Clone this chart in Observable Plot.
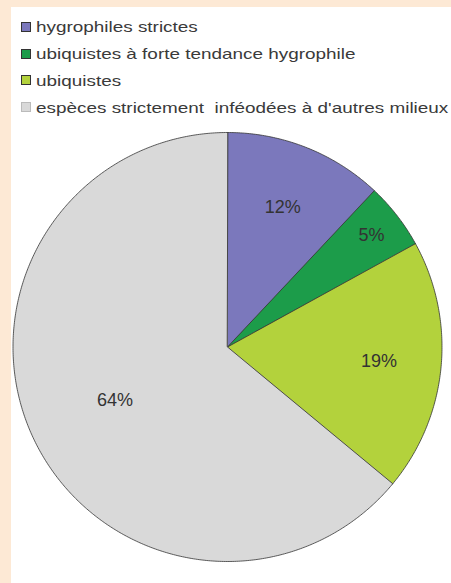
<!DOCTYPE html>
<html>
<head>
<meta charset="utf-8">
<script src="https://cdn.jsdelivr.net/npm/d3@7"></script>
<script src="https://cdn.jsdelivr.net/npm/@observablehq/plot@0.6"></script>
<style>
  html, body { margin: 0; padding: 0; }
  body { width: 451px; height: 583px; background: #fde9d5; position: relative; overflow: hidden; font-family: "Liberation Sans", Arial, sans-serif; }
  #panel { position: absolute; left: 11px; top: 7px; width: 440px; height: 576px; background: #ffffff; overflow: hidden; }
  #legend { position: absolute; left: 10px; top: 6.6px; }
  .row { height: 26.7px; display: flex; align-items: center; white-space: pre; }
  .sw { width: 10px; height: 10px; box-sizing: border-box; border: 1px solid #333; margin-right: 5px; flex: none; }
  .lab { font-size: 15px; color: #3a3a3a; transform: scaleX(1.26); transform-origin: left center; display: inline-block; white-space: pre; }
  #chart { position: absolute; left: 0; top: 118px; }
</style>
</head>
<body>
<div id="panel">
  <div id="legend"></div>
  <div id="chart"></div>
</div>
<script>
const categories = ["hygrophiles strictes", "ubiquistes à forte tendance hygrophile", "ubiquistes", "espèces strictement  inféodées à d'autres milieux"];
const values = [12, 5, 19, 64];
const valueLabels = ["12%", "5%", "19%", "64%"];
const colors = ["#7b78bc", "#1c9c4a", "#b3d23c", "#d9d9d9"];
const labelRadius = [0.70, 0.85, 0.71, 0.58];

// Legend
const legend = document.getElementById("legend");
categories.forEach((c, i) => {
  const row = document.createElement("div");
  row.className = "row";
  const sw = document.createElement("span");
  sw.className = "sw";
  sw.style.background = colors[i];
  if (i === 3) sw.style.borderColor = "#bbb";
  const lab = document.createElement("span");
  lab.className = "lab";
  lab.textContent = c;
  row.appendChild(sw);
  row.appendChild(lab);
  legend.appendChild(row);
});

// Pie geometry from data
const pie = d3.pie().sort(null).value(d => d)(values);
const slicePts = [];
const labelPts = [];
pie.forEach((p, i) => {
  const a0 = p.startAngle, a1 = p.endAngle;
  const n = Math.max(2, Math.ceil((a1 - a0) / (Math.PI / 360)));
  slicePts.push({cat: categories[i], x: 0, y: 0});
  for (let k = 0; k <= n; k++) {
    const a = a0 + (a1 - a0) * k / n;
    slicePts.push({cat: categories[i], x: Math.sin(a), y: Math.cos(a)});
  }
  const m = (a0 + a1) / 2;
  labelPts.push({text: valueLabels[i], x: labelRadius[i] * Math.sin(m), y: labelRadius[i] * Math.cos(m)});
});

const cx = 216, cy = 221.5, R = 214.5;
const plot = Plot.plot({
  width: 440,
  height: 450,
  margin: 0,
  x: {domain: [-1, 1], range: [cx - R, cx + R], axis: null},
  y: {domain: [-1, 1], range: [cy + R, cy - R], axis: null},
  color: {domain: categories, range: colors},
  marks: [
    Plot.line(slicePts, {x: "x", y: "y", z: "cat", fill: "cat", stroke: "#333", strokeWidth: 0.8, curve: "linear-closed", strokeLinejoin: "round"}),
    Plot.text(labelPts, {x: "x", y: "y", text: "text", fontSize: 18, fill: "#333", fontFamily: "Liberation Sans, Arial, sans-serif", textAnchor: "middle", lineAnchor: "middle"})
  ]
});
document.getElementById("chart").appendChild(plot);
</script>
</body>
</html>
